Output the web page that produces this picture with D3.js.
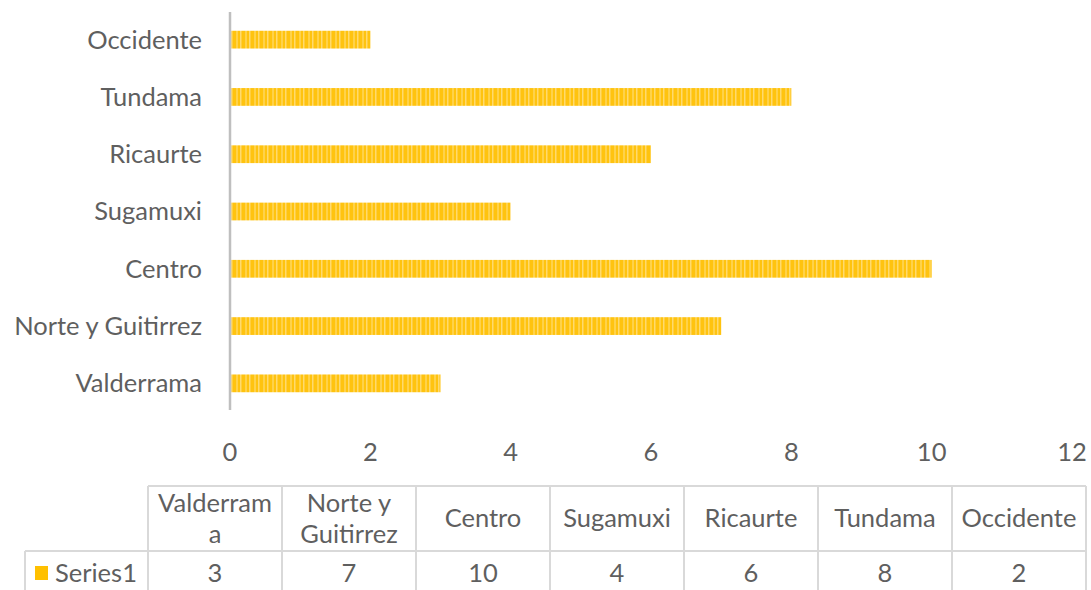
<!DOCTYPE html>
<html>
<head>
<meta charset="utf-8">
<script src="https://cdn.jsdelivr.net/npm/d3@7"></script>
<style>
  body { margin: 0; background: #fff; }
  text { font-family: Lato, "Open Sans", sans-serif; fill: #5f5f5f; }
</style>
</head>
<body>
<svg width="1091" height="590"></svg>
<script>
// data, bottom to top as in the chart
let categories = ["Valderrama", "Norte y Guitirrez", "Centro", "Sugamuxi", "Ricaurte", "Tundama", "Occidente"];
let values = [3, 7, 10, 4, 6, 8, 2];
let headerLines = [["Valderram", "a"], ["Norte y", "Guitirrez"], ["Centro"], ["Sugamuxi"], ["Ricaurte"], ["Tundama"], ["Occidente"]];
let xTicks = [0, 2, 4, 6, 8, 10, 12];
let seriesName = "Series1";

let svg = d3.select("svg");
let barColor = "#FFC000";
let fs = "25.5px";

// striped fill like the picture
let defs = svg.append("defs");
let pat = defs.append("pattern")
    .attr("id", "stripes")
    .attr("patternUnits", "userSpaceOnUse")
    .attr("width", 9).attr("height", 20);
pat.append("rect").attr("width", 9).attr("height", 20).attr("fill", "#FFC30F");
pat.append("rect").attr("x", 2).attr("width", 2).attr("height", 20).attr("fill", "#FFD24A");
pat.append("rect").attr("x", 6).attr("width", 1.5).attr("height", 20).attr("fill", "#FFDA6E");

var x = d3.scaleLinear().domain([0, 12]).range([230, 1072]);
var y = d3.scaleBand().domain(categories).range([412, 11]).paddingInner(0.69).paddingOuter(0.345);

// bars
svg.append("g").selectAll("rect")
    .data(categories)
    .enter().append("rect")
    .attr("x", x(0) + 1)
    .attr("y", (d) => y(d))
    .attr("width", (d, i) => x(values[i]) - x(0) - 1)
    .attr("height", y.bandwidth())
    .attr("fill", "url(#stripes)");

// vertical axis line
svg.append("line")
    .attr("x1", x(0)).attr("x2", x(0))
    .attr("y1", 12).attr("y2", 410)
    .attr("stroke", "#BFBFBF").attr("stroke-width", 2.5);

// category labels
svg.append("g").selectAll("text")
    .data(categories)
    .enter().append("text")
    .attr("x", 202)
    .attr("y", (d) => y(d) + y.bandwidth() / 2)
    .attr("dy", "0.35em")
    .attr("text-anchor", "end")
    .style("font-size", fs)
    .text((d) => d);

// x tick labels
svg.append("g").selectAll("text")
    .data(xTicks)
    .enter().append("text")
    .attr("x", (d) => x(d))
    .attr("y", 452)
    .attr("dy", "0.35em")
    .attr("text-anchor", "middle")
    .style("font-size", fs)
    .text((d) => d);

// data table
let colX = d3.scaleBand().domain(categories).range([148, 1086]);
let rowTop = 486, rowMid = 551, rowBot = 600, legendLeft = 25;
let lineColor = "#D9D9D9";
let tbl = svg.append("g");

tbl.append("line").attr("x1", 148).attr("x2", 1086).attr("y1", rowTop).attr("y2", rowTop);
tbl.append("line").attr("x1", legendLeft).attr("x2", 1086).attr("y1", rowMid).attr("y2", rowMid);
tbl.append("line").attr("x1", legendLeft).attr("x2", legendLeft).attr("y1", rowMid).attr("y2", rowBot);
tbl.selectAll("line.col")
    .data(categories.concat(["end"]))
    .enter().append("line")
    .attr("class", "col")
    .attr("x1", (d, i) => i < categories.length ? colX(d) : 1086)
    .attr("x2", (d, i) => i < categories.length ? colX(d) : 1086)
    .attr("y1", rowTop).attr("y2", rowBot);
tbl.selectAll("line").attr("stroke", lineColor).attr("stroke-width", 2);

// header cells
let hdr = tbl.selectAll("text.hdr")
    .data(headerLines)
    .enter().append("text")
    .attr("class", "hdr")
    .attr("text-anchor", "middle")
    .style("font-size", fs);
hdr.each(function(lines, i) {
    let cx = colX(categories[i]) + colX.bandwidth() / 2;
    let cy = (rowTop + rowMid) / 2;
    let lh = 31;
    d3.select(this).selectAll("tspan")
        .data(lines)
        .enter().append("tspan")
        .attr("x", cx)
        .attr("y", (d, j) => cy + (j - (lines.length - 1) / 2) * lh)
        .attr("dy", "0.35em")
        .text((d) => d);
});

// value cells
tbl.selectAll("text.val")
    .data(values)
    .enter().append("text")
    .attr("class", "val")
    .attr("x", (d, i) => colX(categories[i]) + colX.bandwidth() / 2)
    .attr("y", 573)
    .attr("dy", "0.35em")
    .attr("text-anchor", "middle")
    .style("font-size", fs)
    .text((d) => d);

// legend key
tbl.append("rect")
    .attr("x", 35).attr("y", 566)
    .attr("width", 13).attr("height", 14)
    .attr("fill", barColor);
tbl.append("text")
    .attr("x", 55).attr("y", 573)
    .attr("dy", "0.35em")
    .style("font-size", fs)
    .text(seriesName);
</script>
</body>
</html>
